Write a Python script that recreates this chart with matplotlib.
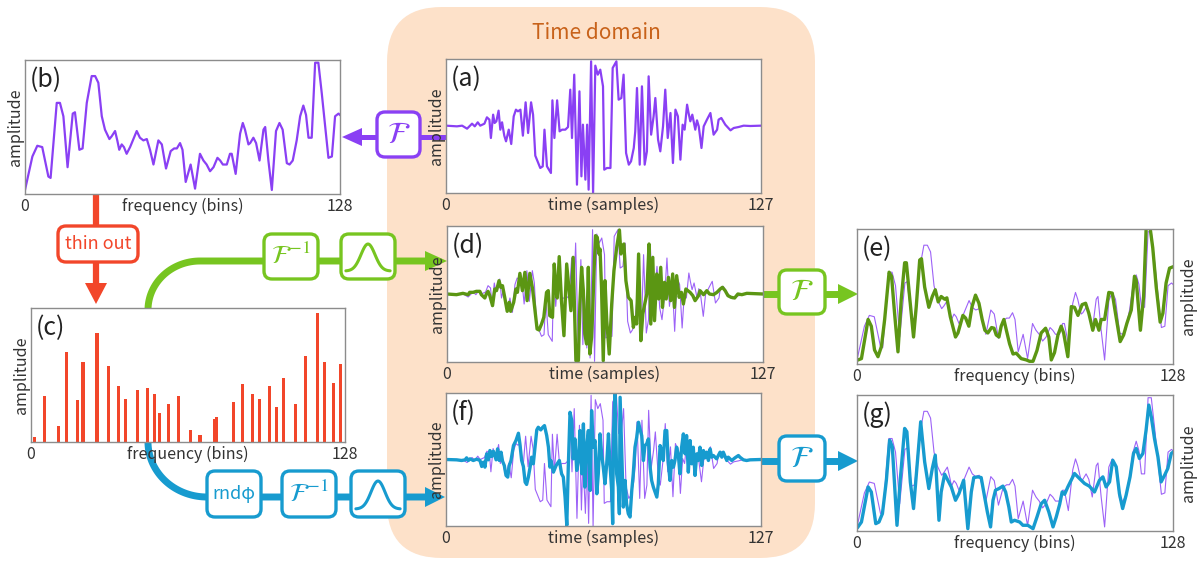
import numpy as np
import matplotlib.pyplot as plt
from matplotlib.patches import FancyBboxPatch, Polygon

plt.rcParams['font.family'] = ['Noto Sans CJK JP', 'DejaVu Sans']
plt.rcParams['mathtext.fontset'] = 'stix'

# (b) spectrum of the original signal
b_bins = [0, 3, 5, 7, 9.5, 10.4, 12.9, 14.2, 15.6, 17.3, 19.4, 20.3, 22.1, 23.4, 25.1, 27.1, 28.5, 29.8, 31.2, 32.5,
          34.3, 35.2, 36.6, 37.5, 38.3, 39.3, 40.2, 41.3, 42.7, 45.4, 46.7, 48.1, 49.5, 50.8, 52.2, 54.2, 55.6, 57.3, 59.2, 60.6,
          61.7, 63.0, 64.0, 65.3, 67.3, 69.1, 71.1, 72.5, 73.8, 75.2, 76.6, 78.2, 79.3, 80.4, 82.0, 83.3, 84.0, 85.6, 87.4, 88.5,
          89.4, 90.8, 91.5, 92.8, 93.9, 95.3, 96.9, 97.6, 98.9, 100.3, 102.0, 103.4, 104.7, 106.4, 107.5, 108.8, 110.4, 111.8, 113.1, 114.2,
          115.2, 116.5, 117.9, 119.2, 120.6, 122.0, 123.3, 124.7, 126.0, 127.4, 128]
b_amp = [3, 28, 36, 35, 13, 12, 68, 68, 58, 20, 60, 61, 33, 34, 68, 88, 88, 83, 58, 48,
         41, 43, 47, 40, 33, 37, 35, 30, 35, 47, 42, 40, 41, 33, 22, 40, 37, 19, 32, 34,
         34, 38, 33, 9, 22, 4, 30, 25, 22, 17, 20, 27, 25, 22, 22, 30, 30, 15, 45, 53,
         48, 37, 38, 42, 38, 25, 48, 50, 25, 3, 47, 53, 48, 23, 22, 25, 40, 58, 66, 59,
         42, 42, 98, 98, 75, 50, 27, 28, 58, 60, 59]

# (a) original time signal
a_t = [0, 4.4, 6.5, 8.5, 10.5, 11.6, 12.8, 13.8, 15.5, 16.5, 17.5, 18.1, 19.0, 19.6, 20.3, 21.2, 21.9, 22.6, 23.5, 24.2,
       25.3, 26.3, 27.3, 28.2, 29.0, 30.0, 31.0, 32.1, 33.1, 34.3, 35.1, 36.0, 38.0, 39.0, 39.7, 40.7, 42.3, 42.9, 43.7, 44.8,
       45.8, 46.8, 48.1, 49.2, 50.1, 50.8, 51.7, 52.8, 53.8, 54.6, 55.2, 56.2, 56.9, 57.5, 58.5, 59.3, 60.2, 61.2, 62.2, 63.3,
       63.8, 64.9, 66.3, 67.2, 68.7, 69.6, 70.7, 71.6, 72.6, 73.7, 74.6, 75.7, 76.3, 77.0, 78.1, 79.0, 80.1, 81.0, 81.7, 82.7,
       83.7, 84.4, 85.5, 86.4, 87.5, 88.4, 89.4, 90.5, 91.5, 92.5, 93.5, 94.5, 95.4, 96.2, 97.2, 97.8, 98.5, 99.3, 100.5, 101.2,
       101.9, 103.0, 103.9, 105.2, 106.6, 107.9, 109.3, 109.9, 111.0, 112.6, 114.7, 116.0, 118.0, 120.0, 122.7, 127]
a_amp = [0, -1, 0, -4.5, 3, -1, 5, 0, 3, 12.5, 9, -18.5, 16.5, 4, 6.5, 22.5, -6, 5, -15, -23.5,
         -6, -27.5, 14, 24, 21.5, 24, -15, 35, -11, 35, 16.5, -45, -63.5, -61, -6, -61, -71, 38, -18.5, 38,
         -8.5, -6, -6, -2, 54, -18.5, 76.5, -88.5, 51.5, -76, 1.5, -81, 1.5, -96, 96.5, -101, 90, 76.5, 84, 59,
         -66, -63.5, -63.5, 86.5, 96.5, 39, 41.5, 76.5, -41, -58.5, -53.5, -33.5, -8.5, 56.5, -58.5, 59, -58.5, -38.5, 74, -13.5,
         14, 41.5, -21, -38.5, -1, 54, -18.5, 19, -56, 24, 14, -51, 1.5, -6, 31.5, 19, 6.5, 16.5, -6, 8,
         -1, -33.5, -1, 9, 19, -13.5, -6, 9, 11.5, 1.5, -7, -3.5, -2, 0, -0.5, 0]

# (c) thinned-out spectrum
c_bins = [1.6, 5.5, 11.4, 14.4, 19.1, 21.2, 26.9, 31.7, 35.7, 38.7, 43.4, 47.4, 50.3, 52.4, 56.1, 60.2, 65.0,
          68.9, 74.8, 75.8, 82.5, 86.4, 90.4, 93.2, 97.2, 100.1, 103.0, 107.9, 111.8, 116.7, 119.7, 123.5, 126.3]
c_amp = [3.5, 34, 12, 67, 31, 60, 81, 57, 42, 32, 39, 40, 36, 22, 28, 34, 9,
         5, 17, 19, 30, 43, 36, 32, 42, 26, 48, 28, 64, 96, 60, 44, 58]

# (d) reconstruction, original phase
d_t = [0, 3.8, 6.4, 8.5, 9.1, 10.5, 11.8, 13.2, 13.8, 15.2, 15.8, 16.5, 17.2, 18.3, 19.2, 19.9, 20.9, 21.6, 22.3, 23.2,
       24.2, 25.0, 25.6, 26.8, 27.7, 28.3, 29.3, 30.3, 31.3, 32.2, 33.3, 34.4, 35.3, 36.2, 37.0, 38.0, 38.9, 40.0, 40.7, 41.3,
       42.4, 43.1, 43.8, 44.3, 45.1, 46.0, 47.0, 48.1, 48.7, 49.8, 50.7, 51.8, 52.8, 53.4, 54.1, 54.8, 55.4, 56.1, 56.8, 57.4,
       58.1, 58.5, 59.1, 59.7, 60.4, 61.1, 61.5, 62.1, 62.8, 63.5, 64.2, 65.2, 66.2, 67.1, 68.2, 69.3, 69.9, 70.5, 71.1, 71.9,
       72.9, 74.0, 74.9, 75.6, 76.2, 77.0, 77.9, 78.7, 79.2, 80.3, 81.2, 81.9, 82.7, 83.4, 84.3, 85.1, 85.9, 86.6, 87.4, 88.1,
       89.0, 89.4, 89.9, 90.7, 91.4, 92.3, 93.3, 94.2, 95.0, 96.0, 96.8, 97.7, 98.8, 99.7, 101.1, 101.7, 103.1, 104.4, 105.5, 107.1,
       108.5, 109.8, 110.7, 111.8, 112.9, 114.2, 115.6, 116.9, 118.5, 120.5, 127]
d_amp = [0, -1, 1, -1, 2.5, 2.5, 4, 4, -1, -6, 0, 4, -2.5, -17.5, 7.5, 5, 20, 10, 12.5, -5,
         -26, -12.5, -26, -12.5, 7.5, 2.5, 31, 5, 32.5, -10, 31, 7.5, -22.5, -52.5, -54, -45, -35, 2.5, 5, -32.5,
         -35, 45, 5, -6, 56, -10, -62.5, 45, 20, -25, 55, -100, -100, -15, 40, 5, -60, -75, 40, -90,
         -65, -30, 35, 87.5, 85, 60, 67.5, 10, -100, 20, -40, -90, -15, 35, 70, 96, 60, 72.5, 75, 20,
         -5, -10, -50, -35, -45, 60, -70, -30, -20, 0, 75, -45, 55, -40, 30, -7.5, 40, -20, 17.5, -7.5,
         25, 10, -10, 30, -20, 27.5, -5, 2.5, -15, 7.5, 5, 2.5, -2.5, -10, -2.5, 5, -1, 5, 0, -1,
         2.5, 7.5, 10, 5, -2.5, -5, -6, 0, -1, 1, 0]

# (e) spectrum of (d)
e_bins = [0.4, 1.8, 4.5, 5.8, 7.1, 8.5, 9.9, 11.2, 13.0, 14.0, 15.2, 16.6, 17.9, 19.3, 20.0, 21.3, 22.9, 24.0, 25.4, 26.1,
          27.4, 29.1, 30.5, 31.7, 32.9, 34.1, 35.5, 36.4, 37.8, 39.9, 40.9, 42.9, 44.0, 45.3, 46.6, 48.0, 49.4, 50.7, 51.8, 53.0,
          54.5, 55.5, 56.4, 57.5, 58.4, 59.5, 60.5, 61.8, 63.2, 64.5, 66.5, 68.6, 69.9, 71.3, 72.9, 74.6, 76.4, 77.7, 78.7, 80.0,
          81.4, 82.7, 83.7, 85.4, 86.8, 88.1, 89.5, 91.2, 92.6, 93.9, 95.5, 96.6, 98.0, 98.9, 100.3, 102.0, 103.4, 104.7, 106.6, 108.0,
          109.3, 111.1, 112.4, 113.1, 114.8, 116.1, 117.1, 118.5, 119.8, 121.2, 122.8, 123.9, 125.2, 126.6, 128]
e_amp = [3, 4, 33, 28, 10.4, 5.4, 13, 33, 68, 65, 38, 9, 47.5, 75, 75, 50, 20, 42.5, 77, 78,
         57, 42, 50, 55, 46, 50, 48, 49, 35, 20, 23, 36, 34, 28, 42.5, 51, 45, 33, 25, 23,
         27, 26.5, 21.5, 20, 28, 33, 25, 15, 7.4, 8, 4, 3, 2, 2, 10, 23, 26.5, 20, 3, 8.4,
         21.5, 28, 23, 5.4, 42.5, 42, 36, 44, 45, 37.6, 25, 33, 25, 33, 33, 53, 52.5, 37.6, 16.6, 21.5,
         30, 40, 65, 62, 25, 50, 99.5, 104, 86, 57, 31, 37.6, 60, 71, 72]

# (f) reconstruction, random phase
f_t = [0, 4.3, 6.3, 7.7, 8.3, 9.0, 9.7, 11.0, 12.4, 13.7, 14.4, 15.1, 15.7, 16.4, 17.1, 17.7, 18.4, 19.1, 20.2, 20.8,
       21.5, 22.2, 22.8, 23.5, 24.2, 24.9, 25.5, 26.2, 27.2, 28.2, 29.2, 29.8, 30.5, 31.2, 31.9, 32.5, 33.2, 33.9, 34.5, 35.2,
       35.9, 36.6, 37.2, 38.2, 39.0, 39.7, 40.6, 41.3, 41.9, 42.3, 43.3, 44.4, 45.7, 46.6, 47.3, 48.0, 48.7, 49.3, 50.0, 50.7,
       51.3, 52.0, 52.7, 53.4, 54.0, 54.8, 55.4, 56.0, 56.7, 57.4, 58.1, 58.7, 59.4, 60.1, 60.8, 61.4, 62.1, 62.8, 63.4, 64.1,
       64.8, 65.5, 66.1, 66.8, 67.2, 67.5, 68.1, 68.8, 69.5, 69.9, 70.2, 70.8, 71.5, 72.2, 72.8, 73.5, 74.2, 74.9, 75.5, 76.2,
       76.9, 77.6, 78.2, 78.9, 79.6, 80.2, 80.9, 81.6, 82.3, 82.9, 83.6, 85.0, 85.6, 86.3, 87.0, 87.6, 88.3, 89.0, 89.6, 90.3,
       91.0, 91.7, 92.3, 93.0, 93.7, 94.3, 95.0, 95.7, 96.4, 97.0, 97.7, 98.4, 99.1, 99.7, 100.4, 101.1, 101.7, 102.4, 103.1, 103.8,
       104.4, 105.1, 105.8, 106.5, 107.1, 107.8, 109.1, 109.8, 110.5, 111.2, 111.8, 113.2, 113.8, 114.5, 115.2, 116.5, 117.9, 118.5, 119.9, 121.2,
       122.6, 127]
f_amp = [0, -0.5, -1.5, -0.5, 2.5, -1.5, 1, -1.5, 0.5, -1.5, -10.5, -4, -11.5, 8.5, -0.5, 13.5, 4.5, 12.5, -0.5, 16,
         -1.5, 11, -2.5, -9, -24, -26.5, -9, -1.5, 21, 28.5, 39.5, 23.5, -1.5, -10.5, -34, -37.5, -26.5, -11.5, 3.5, -6.5,
         18.5, 44.5, 48.5, 44.5, 48.5, 51, 36, 18.5, -11.5, -1.5, -19, -9, -1.5, -21.5, -26.5, -56.5, -99, -11.5, 71, 58.5,
         1, 31, -16.5, -1.5, 43.5, -21.5, 53.5, -41.5, 18.5, 43.5, -46.5, 73.5, 18.5, 28.5, -51.5, -21.5, 38.5, 6, -11.5, -36.5,
         -6.5, 38.5, -6.5, -46.5, -96.5, 38.5, 98.5, -21.5, -41.5, -81.5, 93.5, 18.5, -71.5, -31.5, -66.5, -81.5, -86.5, -46.5, -21.5, 18.5,
         33.5, 56, 46, 36, -1.5, 21, 23.5, 31, -11.5, -31.5, -41.5, -56.5, -36.5, 21, 13.5, -1.5, 43.5, 43.5, -4, -31.5,
         -1.5, -11.5, -1.5, 18.5, 6, -21.5, 18.5, 38.5, 8.5, 36, -19, 28.5, -6.5, 18.5, -24, 8.5, -1.5, 18.5, -9, 13.5,
         2.5, 11, -1.5, 16, 3.5, 6, 1, 6, 11, 3.5, 11, -1.5, 3.5, 1, -1.5, 2.5, 6, 3.5, -0.5, -1.5,
         -0.5, 0]

# (g) spectrum of (f)
g_bins = [0.4, 1.8, 4.5, 5.8, 7.6, 8.9, 10.3, 11.9, 13.2, 14.3, 16.2, 17.5, 19.3, 20.2, 21.6, 22.9, 24.4, 25.8, 27.4, 29.1,
          30.5, 31.7, 33.2, 34.1, 35.5, 36.8, 38.2, 39.9, 41.3, 43.2, 44.9, 46.3, 47.3, 49.0, 50.3, 51.7, 52.8, 54.1, 55.1, 56.1,
          57.5, 59.1, 60.2, 61.5, 62.5, 63.8, 65.9, 67.2, 69.2, 71.3, 72.9, 74.6, 76.0, 77.7, 79.4, 80.7, 82.1, 83.1, 84.1, 85.4,
          88.1, 90.1, 92.2, 94.1, 96.2, 98.2, 99.6, 100.9, 102.3, 103.6, 105.0, 106.3, 107.6, 109.0, 110.6, 112.0, 113.1, 114.4, 115.8, 117.1,
          118.2, 119.2, 120.5, 121.9, 123.2, 124.6, 125.9, 127.3, 128]
g_amp = [3, 6.6, 32.4, 28.7, 5.4, 6.6, 12.8, 37.3, 66.8, 62, 4.2, 37.3, 75.4, 73, 36, 16.5, 49.6, 80.3, 50.9, 31.2,
         46, 55.8, 7.9, 28.7, 41.8, 37.3, 32.4, 22.6, 27.5, 37.3, 1.7, 28.7, 39.3, 39.8, 39.3, 25, 14, 3, 22.6, 30,
         31.2, 33, 28.7, 17.7, 6.6, 7.9, 6.6, 4.2, 4.2, 1.7, 10.3, 20, 22.6, 14, 3, 10.3, 19.7, 28.7, 27, 32.4,
         42.3, 38.6, 34.9, 33, 28.7, 37.3, 39.8, 32.4, 36.1, 52, 47.2, 27.5, 16.5, 26.3, 39.8, 57, 60.7, 53.3, 57, 74.2,
         92.6, 84, 68, 54.5, 36.1, 41, 46, 57, 58]

PURPLE = '#8A40F4'
THIN = '#9D62F7'
RED = '#F2462A'
GREEN = '#77C520'
DGREEN = '#5B9613'
BLUE = '#179BCF'
TXT = '#333333'

W, H = 1198, 565
fig = plt.figure(figsize=(W / 100, H / 100), dpi=100)

ov = fig.add_axes([0, 0, 1, 1], zorder=0)
ov.set_xlim(0, W)
ov.set_ylim(H, 0)
ov.axis('off')

ov.add_patch(FancyBboxPatch((387, 7), 428, 551, boxstyle='round,pad=0,rounding_size=55',
                            fc='#FDE1C9', ec='none', zorder=0))
ov.text(596, 33, 'Time domain', fontsize=15, color='#C8621A', ha='center', va='center')


def panel(x0, y0, x1, y1, tag, right_tick, xlabel, right_ylabel=False):
    ax = fig.add_axes([x0 / W, 1 - y1 / H, (x1 - x0) / W, (y1 - y0) / H], zorder=2)
    ax.set_xticks([])
    ax.set_yticks([])
    for s in ax.spines.values():
        s.set_color('#8c8c8c')
        s.set_linewidth(1)
    ax.text(0.015, 0.95, tag, transform=ax.transAxes, fontsize=18, ha='left', va='top', color='#222222')
    for xf, s in [(0, '0'), (1, right_tick), (0.5, xlabel)]:
        ax.annotate(s, xy=(xf, 0), xycoords='axes fraction', xytext=(0, -9), textcoords='offset points',
                    ha='center', va='center', fontsize=11.5, color=TXT)
    if right_ylabel:
        ax.annotate('amplitude', xy=(1, 0.5), xycoords='axes fraction', xytext=(11, 0),
                    textcoords='offset points', rotation=90, ha='center', va='center', fontsize=11.5, color=TXT)
    else:
        ax.annotate('amplitude', xy=(0, 0.5), xycoords='axes fraction', xytext=(-7, 0),
                    textcoords='offset points', rotation=90, ha='center', va='center', fontsize=11.5, color=TXT)
    return ax


ax_b = panel(25, 60, 340, 194, '(b)', '128', 'frequency (bins)')
ax_b.plot(b_bins, b_amp, color=PURPLE, lw=1.6)
ax_b.set_xlim(0, 128)
ax_b.set_ylim(0, 100)

ax_a = panel(446, 59, 761, 193, '(a)', '127', 'time (samples)')
ax_a.plot(a_t, a_amp, color=PURPLE, lw=1.6)
ax_a.set_xlim(0, 127)
ax_a.set_ylim(-101, 100)

ax_c = panel(31, 308, 345, 442, '(c)', '128', 'frequency (bins)')
ax_c.bar(c_bins, c_amp, width=1.25, color=RED)
ax_c.set_xlim(0, 128)
ax_c.set_ylim(0, 100)

ax_d = panel(447, 226, 763, 362, '(d)', '127', 'time (samples)')
ax_d.plot(a_t, a_amp, color=THIN, lw=0.8)
ax_d.plot(d_t, d_amp, color=DGREEN, lw=2.4)
ax_d.set_xlim(0, 127)
ax_d.set_ylim(-102, 102)

ax_e = panel(857, 229, 1173, 364, '(e)', '128', 'frequency (bins)', right_ylabel=True)
ax_e.plot(b_bins, b_amp, color=THIN, lw=0.8)
ax_e.plot(e_bins, e_amp, color=DGREEN, lw=2.4)
ax_e.set_xlim(0, 128)
ax_e.set_ylim(0, 100)

ax_f = panel(446, 393, 761, 526, '(f)', '127', 'time (samples)')
ax_f.plot(a_t, a_amp, color=THIN, lw=0.8)
ax_f.plot(f_t, f_amp, color=BLUE, lw=2.4)
ax_f.set_xlim(0, 127)
ax_f.set_ylim(-100, 100)

ax_g = panel(857, 395, 1173, 531, '(g)', '128', 'frequency (bins)', right_ylabel=True)
ax_g.plot(b_bins, b_amp, color=THIN, lw=0.8)
ax_g.plot(g_bins, g_amp, color=BLUE, lw=2.4)
ax_g.set_xlim(0, 128)
ax_g.set_ylim(0, 100)


def box(x0, y0, x1, y1, color):
    ov.add_patch(FancyBboxPatch((x0, y0), x1 - x0, y1 - y0, boxstyle='round,pad=0,rounding_size=8',
                                fc='white', ec=color, lw=2.4, zorder=4))


def label_box(x0, y0, x1, y1, color, s, size=22):
    box(x0, y0, x1, y1, color)
    ov.text((x0 + x1) / 2, (y0 + y1) / 2, s, color=color, fontsize=size, ha='center', va='center', zorder=5)


def gauss_box(x0, y0, x1, y1, color):
    box(x0, y0, x1, y1, color)
    u = np.linspace(-1, 1, 60)
    ov.plot((x0 + x1) / 2 + u * (x1 - x0) / 2 * 0.82,
            y1 - 8 - np.exp(-u ** 2 / 0.2) * (y1 - y0 - 18),
            color=color, lw=2.2, zorder=5, solid_capstyle='round')


def head(tip_x, tip_y, base_x, half, color):
    ov.add_patch(Polygon([[tip_x, tip_y], [base_x, tip_y - half], [base_x, tip_y + half]],
                         closed=True, fc=color, ec='none', zorder=3))


def head_down(tip_x, tip_y, base_y, half, color):
    ov.add_patch(Polygon([[tip_x, tip_y], [tip_x - half, base_y], [tip_x + half, base_y]],
                         closed=True, fc=color, ec='none', zorder=3))


# (a) -> (b)
ov.plot([360, 446], [137, 137], color=PURPLE, lw=3.6, zorder=2)
head(342, 137, 362, 9, PURPLE)
label_box(377, 112, 420, 157, PURPLE, r'$\mathcal{F}$')

# (b) -> (c)
ov.plot([96, 96], [194, 285], color=RED, lw=4.5, zorder=2)
head_down(96, 304, 283, 11, RED)
label_box(58, 226, 138, 262, RED, 'thin out', size=13)

# (c) -> (d)
t = np.linspace(0, np.pi / 2, 40)
gx = list(200 - 52 * np.cos(t)) + [427]
gy = list(310 - 49 * np.sin(t)) + [261]
ov.plot(gx, gy, color=GREEN, lw=5, zorder=2)
head(447, 261, 425, 10, GREEN)
label_box(264, 234, 318, 279, GREEN, r'$\mathcal{F}^{-1}$', size=19)
gauss_box(341, 234, 395, 279, GREEN)

# (d) -> (e)
ov.plot([763, 840], [294, 294], color=GREEN, lw=5, zorder=2)
head(858, 294, 838, 10, GREEN)
label_box(779, 270, 825, 314, GREEN, r'$\mathcal{F}$')

# (c) -> (f)
bx = list(207 - 59 * np.cos(t)) + [427]
by = list(442 + 55 * np.sin(t)) + [497]
ov.plot(bx, by, color=BLUE, lw=5, zorder=2)
head(445, 497, 425, 10, BLUE)
label_box(207, 471, 261, 517, BLUE, 'rndφ', size=13)
label_box(282, 471, 336, 517, BLUE, r'$\mathcal{F}^{-1}$', size=19)
gauss_box(351, 471, 405, 517, BLUE)

# (f) -> (g)
ov.plot([761, 840], [461, 461], color=BLUE, lw=5, zorder=2)
head(858, 461, 838, 10, BLUE)
label_box(779, 436, 825, 481, BLUE, r'$\mathcal{F}$')

fig.savefig('out.png', dpi=100)
